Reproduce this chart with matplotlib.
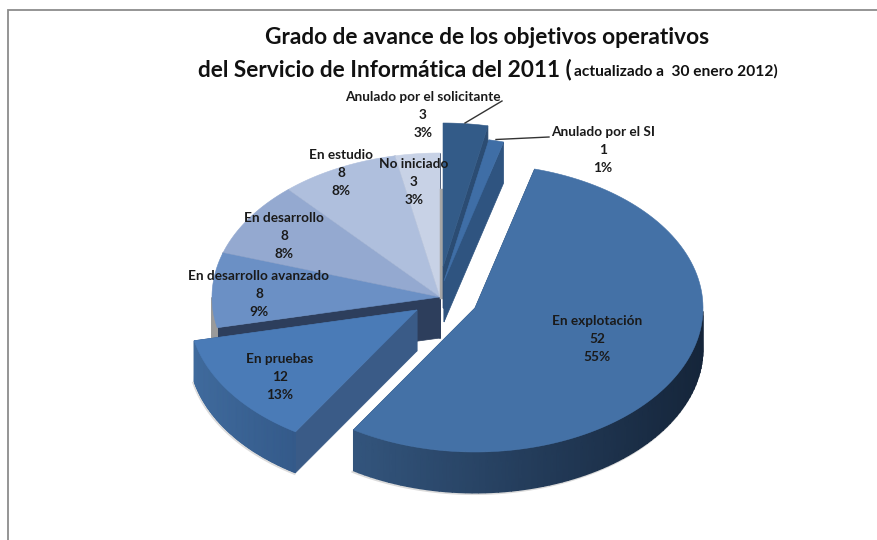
import numpy as np
import matplotlib
matplotlib.use("Agg")
import matplotlib.pyplot as plt
from matplotlib.colors import LinearSegmentedColormap
from matplotlib.patches import Polygon

plt.rcParams['font.family'] = ['Lato', 'DejaVu Sans']

# clockwise from 12 o'clock
categories = ['Anulado por el solicitante', 'Anulado por el SI', 'En explotación', 'En pruebas',
              'En desarrollo avanzado', 'En desarrollo', 'En estudio', 'No iniciado']
values = [3, 1, 52, 12, 8, 8, 8, 3]
percents = [3, 1, 55, 13, 9, 8, 8, 3]

top_colors = ['#335b88', '#3f6ea6', '#4471a6', '#4a7bb7', '#6b90c5', '#94a9d0', '#afbfdd', '#c8d2e6']
cut_colors = ['#2b4c73', '#2f5480', '#2b4a70', '#3a5b87', '#2d3e5c', '#2d3e5c', '#2d3e5c', '#2d3e5c']
wall_left = ['#335b88', '#3f6ea6', '#33557d', '#3f6a9c', '#9a9a9a', '#9a9a9a', '#9a9a9a', '#9a9a9a']
wall_right = ['#335b88', '#3f6ea6', '#15253a', '#345a8a', '#9a9a9a', '#9a9a9a', '#9a9a9a', '#9a9a9a']

# pixel centre of each slice, the pie itself sits at (440, 297)
centers = [(443, 267), (444, 281), (475, 308), (417, 310), (440, 297), (440, 297), (440, 297), (440, 297)]
label_pos = [(423, 97), (603, 132), (597, 321), (280, 359), (259, 276), (284, 218), (341, 155), (414, 164)]

RX, RY, DEPTH = 228, 144, 41

fig = plt.figure(figsize=(8.78, 5.4), dpi=100)
ax = fig.add_axes([0, 0, 1, 1])
ax.set_xlim(0, 878)
ax.set_ylim(540, 0)
ax.axis('off')


def rim(cx, cy, a):
    # a is in degrees, clockwise from the top
    r = np.radians(a)
    return cx + RX * np.sin(r), cy - RY * np.cos(r)


def draw_slice(i, a0, a1, z):
    cx, cy = centers[i]
    angs = np.linspace(a0, a1, 120)
    xs, ys = rim(cx, cy, angs)

    # cut faces
    for a in (a0, a1):
        x, y = rim(cx, cy, a)
        ax.add_patch(Polygon([(cx, cy), (x, y), (x, y + DEPTH), (cx, cy + DEPTH)],
                             fc=cut_colors[i], ec=cut_colors[i], lw=0.5, zorder=z))

    # outer wall, only the front of the rim shows
    front = np.where((angs >= 90) & (angs <= 270))[0]
    if len(front) > 1:
        fx, fy = xs[front], ys[front]
        t = (fx - fx.min()) / max(fx.max() - fx.min(), 1)
        cmap = LinearSegmentedColormap.from_list('wall', [wall_left[i], wall_right[i]])
        ax.pcolormesh(np.vstack([fx, fx]), np.vstack([fy, fy + DEPTH]), np.vstack([t, t]),
                      shading='gouraud', cmap=cmap, vmin=0, vmax=1, zorder=z)
        # soft shadow under the wall
        ax.plot(fx - 1, fy + DEPTH + 1, color='#999999', lw=1.5, alpha=0.35, zorder=z - 0.5)

    ax.add_patch(Polygon(np.r_[[(cx, cy)], np.c_[xs, ys]], fc=top_colors[i], ec=top_colors[i], lw=0.4, zorder=z + 0.1))


edges = np.r_[0, np.cumsum(values)] / sum(values) * 360
order = {4: 3, 5: 3, 6: 3, 7: 3, 0: 4, 1: 5, 3: 6, 2: 7}
for i in range(len(values)):
    draw_slice(i, edges[i], edges[i + 1], order[i])

# shadow in the gap beside the unexploded part
ax.plot([441.5, 441.5], [190, 297], color='#a6a6a6', lw=2.5, zorder=3.5)

# frame of the slide picture
ax.plot([8.5, 8.5, 878], [540, 9.5, 9.5], color='#8c8c8c', lw=1.3, solid_joinstyle='miter', zorder=1)

# leader lines
ax.plot([465, 502], [123, 101], color='#333333', lw=1, zorder=9)
ax.plot([496, 549], [139.5, 137], color='#333333', lw=1, zorder=9)

for name, v, p, (x, y) in zip(categories, values, percents, label_pos):
    for n, s in enumerate([name, str(v), f'{p}%']):
        ax.text(x, y + n * 17.8, s, ha='center', va='center', fontsize=9.8, fontweight='bold', color='#1a1a1a', zorder=10)

ax.text(487, 37, 'Grado de avance de los objetivos operativos', ha='center', va='center',
        fontsize=16.3, fontweight='bold', color='#111111', zorder=10)
ax.text(198, 70, 'del Servicio de Informática del 2011 (', ha='left', va='center',
        fontsize=16.3, fontweight='bold', color='#111111', zorder=10)
ax.text(778, 71, 'actualizado a  30 enero 2012)', ha='right', va='center',
        fontsize=11.2, fontweight='bold', color='#111111', zorder=10)

fig.savefig('out.png', dpi=100)
